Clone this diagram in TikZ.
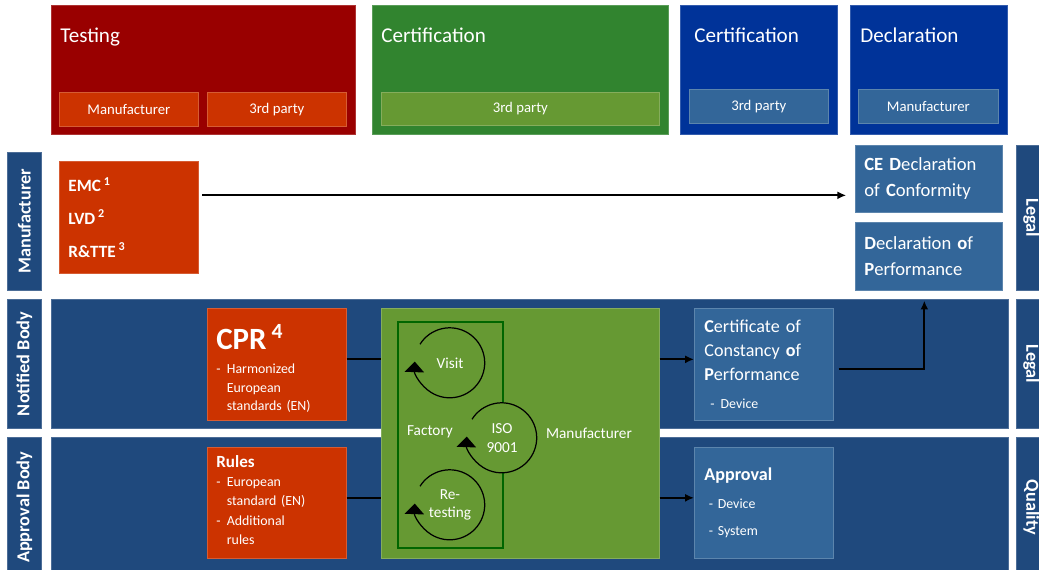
\documentclass[tikz,border=0pt]{standalone}
\usepackage{fontspec}
\setmainfont{Carlito}
\usetikzlibrary{arrows.meta,positioning}
\definecolor{testred}{HTML}{990000}
\definecolor{stdorange}{HTML}{CC3300}
\definecolor{certgreen}{HTML}{31842F}
\definecolor{leafgreen}{HTML}{669933}
\definecolor{factgreen}{HTML}{006600}
\definecolor{certblue}{HTML}{003399}
\definecolor{steel}{HTML}{336699}
\definecolor{navy}{HTML}{1F497D}
\newcommand\dashitem[1]{\makebox[6pt][l]{-}\begin{tabular}[t]{@{}l@{}}#1\end{tabular}\par}
\tikzset{
  px/.style 2 args={minimum width=#1*0.02cm, minimum height=#2*0.02cm},
  box/.style={fill=#1, draw=#1!80!white, line width=0.4pt, inner sep=0pt, anchor=north west, text=white},
  phase/.style={font=\fontsize{12}{14}\selectfont, text=white, anchor=base west, inner sep=0pt},
  party/.style={font=\fontsize{8.4}{10}\selectfont},
  stdbox/.style={box=stdorange, inner xsep=0.18cm, text width=2.42cm, align=left},
  outbox/.style={box=steel, inner xsep=0.2cm, text width=2.38cm, align=left},
  declbox/.style={box=steel, inner xsep=0.18cm, text width=2.58cm, align=left,
    font=\fontsize{10.6}{14.7}\selectfont},
  striptext/.style={text=white, font=\fontsize{10.4}{12}\selectfont\bfseries},
  small/.style={text=white, font=\fontsize{8.7}{10.4}\selectfont, align=center},
  link/.style={line width=1.1pt},
  arrow/.style={link, -{Latex[length=5pt,width=4.5pt]}},
  cycle/.style={line width=0.7pt, -{Triangle[length=6pt,width=11pt]}},
  loop/.style={circle, minimum size=1.4cm, inner sep=0pt, small}
}
\begin{document}
\begin{tikzpicture}[x=0.02cm,y=-0.02cm]
\useasboundingbox (0,0) rectangle (1039,570);

% phases on top
\node[box=testred, px={304}{129}] (testing) at (51,5) {};
\node[box=certgreen, px={296}{129}] (certA) at (372,5) {};
\node[box=certblue, px={157}{129}] (certB) at (680,5) {};
\node[box=certblue, px={157}{129}] (decl) at (850,5) {};
\node[phase] (testingT) at (60,43) {Testing};
\node[phase] (certAT) at (381,43) {Certification};
\node[phase] (certBT) at (694,43) {Certification};
\node[phase] (declT) at (860,43) {Declaration};
\node[box=stdorange, px={139}{34}, party] (tman) at (59,92) {Manufacturer};
\node[box=stdorange, px={139}{34}, party] (tthird) at (207,92) {3rd party};
\node[box=leafgreen, px={278}{33}, party] (cthirdA) at (381,92) {3rd party};
\node[box=steel, px={139}{34}, party] (cthirdB) at (689,89) {3rd party};
\node[box=steel, px={140}{34}, party] (dman) at (858,89) {Manufacturer};

% rows
\node[box=navy, px={34}{138}] (sman) at (7,152) {};
\node[box=navy, px={34}{129}] (snb) at (7,299) {};
\node[box=navy, px={34}{140}] (sab) at (7,437) {};
\node[striptext, rotate=90] at (sman) {Manufacturer};
\node[striptext, rotate=90] at (snb) {Notified Body};
\node[striptext, rotate=90] at (sab) {Approval Body};
\node[box=navy, px={30}{145}] (rman) at (1016,145) {};
\node[box=navy, px={30}{129}] (rnb) at (1016,299) {};
\node[box=navy, px={30}{140}] (rab) at (1016,437) {};
\node[striptext, rotate=-90] at (rman) {Legal};
\node[striptext, rotate=-90] at (rnb) {Legal};
\node[striptext, rotate=-90] at (rab) {Quality};
\node[box=navy, px={957}{129}] (nb) at (51,299) {};
\node[box=navy, px={957}{140}] (ab) at (51,437) {};

% standards
\node[stdbox, minimum height=2.24cm, font=\fontsize{9.8}{18.7}\selectfont\bfseries] (emc) at (59,161)
  {EMC\,\textsuperscript{1}\\LVD\,\textsuperscript{2}\\R\&TTE\,\textsuperscript{3}};
\node[stdbox, minimum height=2.24cm, font=\fontsize{7.9}{10.4}\selectfont] (cpr) at (207,308)
  {{\fontsize{17.6}{18}\selectfont\bfseries CPR\,\textsuperscript{4}\par}\vspace{3.3pt}
   \dashitem{Harmonized\\European\\standards (EN)}\vspace{-6.8pt}};
\node[stdbox, minimum height=2.22cm, font=\fontsize{7.9}{10.8}\selectfont] (rules) at (207,447)
  {{\fontsize{9.7}{11}\selectfont\bfseries Rules\par}
   \dashitem{European\\standard (EN)}\dashitem{Additional\\rules}};

% factory
\node[box=leafgreen, px={278}{250}] (factory) at (381,308) {};
\node[box=leafgreen, draw=factgreen, line width=1.2pt, px={105}{226}] (inner) at (397,321) {};
\node[small] (factoryT) at (430,432) {Factory};
\node[small] (manT) at (589,433) {Manufacturer};
\node[loop] (visit) at (450,363) {Visit};
\node[loop, fill=leafgreen] (iso) at (502,438) {ISO\\9001};
\node[loop] (retest) at (450,505) {Re-\\testing};
\draw[cycle] (visit.148) arc[start angle=148, end angle=-182, radius=0.7cm];
\draw[cycle] (iso.148) arc[start angle=148, end angle=-182, radius=0.7cm];
\draw[cycle] (retest.148) arc[start angle=148, end angle=-182, radius=0.7cm];

% results
\node[declbox, minimum height=1.34cm] (ce) at (855,145)
  {\textbf{CE D}eclaration\\of \textbf{C}onformity};
\node[declbox, minimum height=1.36cm] (dop) at (855,222)
  {\textbf{D}eclaration \textbf{o}f\\\textbf{P}erformance};
\node[outbox, minimum height=2.24cm, font=\fontsize{10.3}{13.9}\selectfont] (cert) at (694,308)
  {\textbf{C}ertificate of\\Constancy \textbf{o}f\\\textbf{P}erformance\\[2pt]
   {\fontsize{7.9}{10}\selectfont\ - Device}};
\node[outbox, minimum height=2.22cm, font=\fontsize{7.9}{15.8}\selectfont] (appr) at (694,447)
  {{\fontsize{10.3}{12}\selectfont\bfseries Approval}\\\ - Device\\\ - System};

% connectors
\draw[arrow, shorten <=2pt, shorten >=5pt] ([yshift=0.44cm]emc.east) -- ([yshift=0.44cm]emc.east -| ce.west);
\draw[link] ([yshift=0.1cm]cpr.east) -- ([yshift=0.1cm]cpr.east -| factory.west);
\draw[link] ([yshift=0.1cm]rules.east) -- ([yshift=0.1cm]rules.east -| factory.west);
\draw[arrow] ([yshift=0.1cm]cpr.east -| factory.east) -- ([yshift=0.1cm]cert.west);
\draw[arrow] ([yshift=0.1cm]rules.east -| factory.east) -- ([yshift=0.1cm]appr.west);
\draw[arrow, shorten >=0.2cm] ([xshift=0.1cm, yshift=-0.1cm]cert.east) -| ([xshift=-0.09cm]dop.south);
\end{tikzpicture}
\end{document}
